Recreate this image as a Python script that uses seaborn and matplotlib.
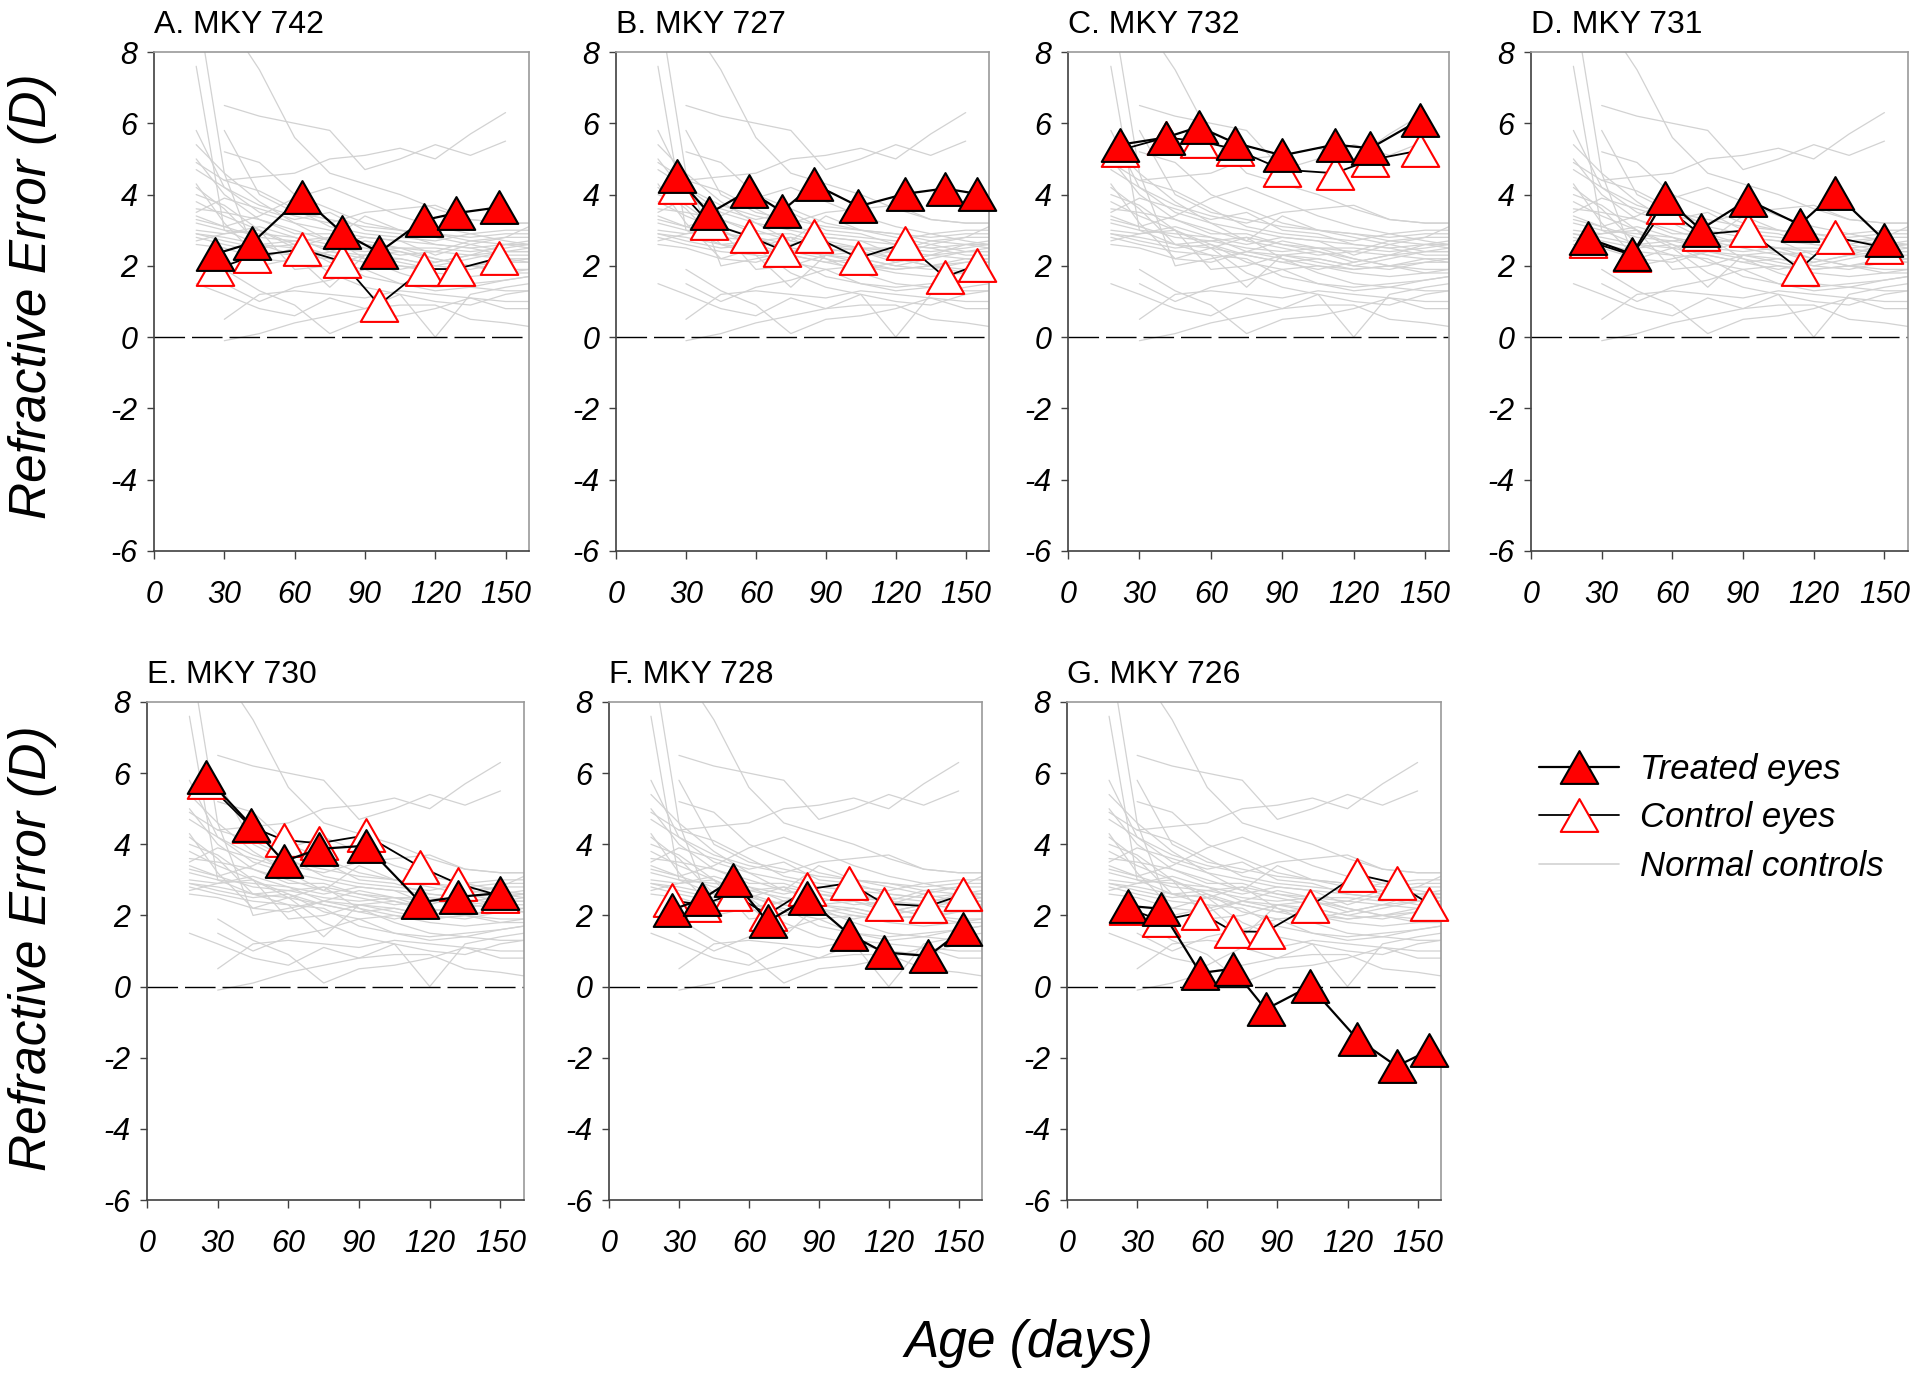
import numpy as np
import pandas as pd
import matplotlib
matplotlib.use('Agg')
import matplotlib.pyplot as plt
from matplotlib.path import Path
from matplotlib.lines import Line2D
import seaborn as sns

# ============================
# Data
# ============================
titles = ['A. MKY 742', 'B. MKY 727', 'C. MKY 732', 'D. MKY 731',
          'E. MKY 730', 'F. MKY 728', 'G. MKY 726']

a_age = [26, 42, 63, 80, 96, 115, 129, 147]
a_treated = [2.33, 2.65, 3.94, 2.95, 2.38, 3.28, 3.48, 3.64]
a_control = [1.90, 2.27, 2.46, 2.13, 0.91, 1.91, 1.91, 2.22]

b_age = [26, 40, 57, 71, 85, 104, 124, 141, 155]
b_treated = [4.51, 3.47, 4.11, 3.53, 4.29, 3.67, 4.02, 4.17, 4.02]
b_control = [4.20, 3.20, 2.83, 2.45, 2.83, 2.22, 2.63, 1.69, 2.02]

c_age = [22, 41, 55, 70, 90, 112, 127, 148]
c_treated = [5.40, 5.60, 5.90, 5.45, 5.10, 5.40, 5.30, 6.10]
c_control = [5.25, 5.60, 5.50, 5.28, 4.70, 4.60, 4.97, 5.24]

d_age = [24, 43, 57, 72, 92, 114, 129, 150]
d_treated = [2.78, 2.33, 3.90, 3.02, 3.85, 3.16, 4.05, 2.72]
d_control = [2.70, 2.30, 3.65, 2.88, 3.00, 1.91, 2.80, 2.52]

e_age = [25, 44, 58, 73, 93, 116, 132, 150]
e_treated = [5.89, 4.55, 3.52, 3.87, 3.96, 2.37, 2.52, 2.63]
e_control = [5.75, 4.50, 4.12, 4.03, 4.25, 3.36, 2.89, 2.55]

f_age = [27, 40, 53, 68, 85, 103, 118, 137, 152]
f_treated = [2.16, 2.46, 3.01, 1.83, 2.48, 1.47, 0.96, 0.86, 1.61]
f_control = [2.42, 2.30, 2.60, 2.03, 2.73, 2.91, 2.33, 2.26, 2.59]

g_age = [26, 40, 57, 71, 85, 104, 124, 141, 155]
g_treated = [2.27, 2.19, 0.38, 0.50, -0.64, 0.01, -1.46, -2.24, -1.79]
g_control = [2.20, 1.86, 2.08, 1.55, 1.54, 2.26, 3.15, 2.90, 2.32]

# normal control animals (same grey curves in every panel)
normal_age = [18, 30, 45, 60, 75, 90, 105, 120, 135, 150, 160]
normal_values = [
    [7.6, 3.0, 2.6, 2.5, 2.3, 2.1, 2.2, 2.0, 2.2, 2.4, 2.5],
    [9.5, 4.6, 2.0, 2.2, 2.4, 2.3, 2.1, 1.9, 2.0, 2.2, 2.2],
    [np.nan, 9.0, 7.5, 5.6, 4.6, 4.3, 4.0, 3.6, 3.3, 3.2, 3.2],
    [np.nan, 6.5, 6.2, 6.0, 5.8, 4.7, 5.0, 5.4, 5.1, 5.5, np.nan],
    [np.nan, 4.4, 4.5, 4.6, 5.0, 5.1, 5.3, 5.0, 5.7, 6.3, np.nan],
    [5.8, 4.2, 3.5, 3.2, 3.0, 2.8, 2.7, 2.6, 2.5, 2.6, 2.6],
    [5.4, 4.6, 3.8, 3.2, 2.7, 2.5, 2.3, 2.4, 2.3, 2.2, 2.1],
    [4.3, 3.2, 2.2, 2.5, 2.8, 2.6, 2.5, 2.4, 2.7, 2.8, 2.8],
    [3.5, 3.9, 3.6, 3.3, 3.5, 3.0, 2.9, 2.6, 2.5, 2.3, 2.3],
    [3.2, 3.0, 2.9, 2.8, 2.4, 2.2, 2.0, 1.9, 2.0, 2.1, 2.1],
    [2.9, 2.8, 2.6, 2.7, 2.5, 2.4, 2.5, 2.5, 2.4, 2.5, 2.6],
    [2.8, 2.6, 2.4, 2.3, 2.2, 1.7, 1.5, 1.3, 1.4, 1.6, 1.7],
    [3.0, 2.9, 3.1, 2.8, 2.6, 2.8, 2.7, 2.3, 2.6, 2.8, 3.1],
    [1.5, 1.2, 0.8, 0.6, 1.1, 0.8, 1.2, 1.0, 0.9, 1.2, 1.3],
    [np.nan, 0.5, 1.2, 1.3, 1.2, 1.1, 1.3, 1.2, 1.1, 1.0, 1.0],
    [np.nan, -0.1, 0.1, 0.4, 0.6, 0.8, 0.9, 0.9, 0.5, 0.4, 0.3],
    [3.8, 3.4, 3.0, 2.5, 1.8, 1.4, 1.2, 0.0, 1.2, 1.4, 1.5],
    [4.7, 4.2, 3.7, 3.4, 3.2, 3.5, 3.6, 3.7, 3.3, 3.2, 3.2],
    [3.3, 3.1, 3.4, 3.9, 4.2, 3.8, 3.4, 3.1, 2.9, 2.7, 2.6],
    [2.6, 2.5, 2.2, 2.1, 2.4, 2.7, 2.5, 2.2, 2.0, 1.8, 1.8],
    [4.0, 3.7, 3.0, 2.6, 2.1, 1.9, 1.5, 1.4, 1.5, 1.6, 1.7],
    [np.nan, 5.2, 4.9, 4.0, 3.6, 3.2, 3.0, 2.9, 2.8, 2.9, 2.9],
    [5.0, 4.0, 3.3, 3.0, 2.7, 3.4, 3.0, 2.8, 2.6, 2.4, 2.4],
    [3.6, 3.5, 3.3, 2.9, 2.9, 2.6, 2.4, 2.1, 2.3, 2.6, 2.7],
    [2.7, 2.9, 3.0, 1.9, 2.0, 2.3, 2.2, 2.0, 1.9, 2.1, 2.2],
    [4.2, 3.6, 2.6, 2.3, 1.4, 2.3, 2.4, 2.2, 2.0, 1.9, 1.9],
    [3.4, 3.1, 2.8, 2.7, 2.8, 2.2, 1.8, 1.5, 1.4, 1.3, 1.3],
    [np.nan, 1.9, 1.3, 0.9, 0.1, 0.5, 0.6, 0.8, 1.1, 0.8, 0.8],
    [np.nan, 5.8, 4.0, 3.5, 3.3, 3.1, 3.0, 2.9, 2.7, 2.6, 2.5],
    [2.9, 2.7, 2.5, 2.6, 2.3, 2.1, 1.9, 2.1, 2.3, 2.4, 2.4],
    [4.9, 4.4, 4.1, 3.6, 3.1, 2.9, 2.8, 2.7, 2.9, 3.0, 3.0],
    [np.nan, 1.5, 1.0, 1.4, 1.6, 1.9, 2.0, 1.8, 1.7, 1.8, 1.9],
]

# ============================
# Build data frames
# ============================
panel_data = [
    (a_age, a_treated, a_control), (b_age, b_treated, b_control),
    (c_age, c_treated, c_control), (d_age, d_treated, d_control),
    (e_age, e_treated, e_control), (f_age, f_treated, f_control),
    (g_age, g_treated, g_control),
]

rows = []
for i, vals in enumerate(normal_values):
    for age, v in zip(normal_age, vals):
        if not np.isnan(v):
            rows.append({'animal': i, 'age': age, 're': v})
normal_df = pd.DataFrame(rows)

# ============================
# Plot
# ============================
sns.set_style('white')
plt.rcParams['font.family'] = ['Liberation Sans', 'DejaVu Sans']
plt.rcParams['axes.unicode_minus'] = False
for key in ['text.color', 'axes.labelcolor', 'xtick.color', 'ytick.color']:
    plt.rcParams[key] = 'black'

W, H = 1920, 1378
fig = plt.figure(figsize=(W / 100, H / 100), dpi=100)

# axes boxes in pixels: left, right, top, bottom
boxes = [(154, 529, 52, 551), (616, 989, 52, 551), (1068, 1449, 52, 551),
         (1531, 1908, 52, 551), (147, 524, 702, 1200), (609, 982, 702, 1200),
         (1067, 1441, 702, 1200)]

tri = Path([(0, 0.875), (-1, -0.875), (1, -0.875), (0, 0.875)],
           [Path.MOVETO, Path.LINETO, Path.LINETO, Path.CLOSEPOLY])
ms = 27

for title, (l, r, t, b), (age, treated, control) in zip(titles, boxes, panel_data):
    ax = fig.add_axes([l / W, 1 - b / H, (r - l) / W, (b - t) / H])
    df = pd.DataFrame({'age': age, 'treated': treated, 'control': control})

    sns.lineplot(data=normal_df, x='age', y='re', units='animal', estimator=None,
                 color='#d2d2d2', lw=0.9, ax=ax, zorder=1)
    ax.axhline(0, color='black', lw=1, dashes=(22, 5), zorder=1.5)
    sns.lineplot(data=df, x='age', y='control', sort=False, color='black', lw=1.3,
                 marker=tri, markersize=ms, markerfacecolor='white',
                 markeredgecolor='red', markeredgewidth=1.5, ax=ax, zorder=3,
                 clip_on=False)
    sns.lineplot(data=df, x='age', y='treated', sort=False, color='black', lw=1.6,
                 marker=tri, markersize=ms, markerfacecolor='red',
                 markeredgecolor='black', markeredgewidth=1.5, ax=ax, zorder=4,
                 clip_on=False)

    ax.set_xlim(0, 160)
    ax.set_ylim(-6, 8)
    ax.set_xticks([0, 30, 60, 90, 120, 150])
    ax.set_yticks([-6, -4, -2, 0, 2, 4, 6, 8])
    ax.set_xlabel('')
    ax.set_ylabel('')
    ax.tick_params(axis='x', direction='out', length=6, width=1, pad=15,
                   labelsize=22, color='#404040', bottom=True)
    ax.tick_params(axis='y', direction='out', length=5, width=1, pad=7,
                   labelsize=22, color='#404040', left=True)
    for lab in ax.get_xticklabels() + ax.get_yticklabels():
        lab.set_fontstyle('italic')
    for side in ['left', 'bottom']:
        ax.spines[side].set_color('#404040')
        ax.spines[side].set_linewidth(1.2)
    for side in ['top', 'right']:
        ax.spines[side].set_color('#9a9a9a')
        ax.spines[side].set_linewidth(1.2)
    ax.set_title(title, loc='left', fontsize=23, pad=14)

# axis labels
for yc in [296, 948]:
    fig.text(33 / W, 1 - yc / H, 'Refractive Error (D)', rotation=90, fontsize=37,
             style='italic', ha='center', va='center')
fig.text(1029 / W, 1 - 1343 / H, 'Age (days)', fontsize=37, style='italic',
         ha='center', va='center')

# legend
handles = [
    Line2D([], [], color='black', lw=1.6, marker=tri, ms=ms, mfc='red',
           mec='black', mew=1.5),
    Line2D([], [], color='black', lw=1.3, marker=tri, ms=ms, mfc='white',
           mec='red', mew=1.5),
    Line2D([], [], color='#d2d2d2', lw=1.2),
]
fig.legend(handles, ['Treated eyes', 'Control eyes', 'Normal controls'],
           loc='center left', bbox_to_anchor=(1539 / W, 1 - 818 / H),
           frameon=False, prop={'style': 'italic', 'size': 25},
           handlelength=2.3, handletextpad=0.6, labelspacing=0.45,
           borderpad=0, borderaxespad=0)

plt.savefig('out.png', dpi=100)
